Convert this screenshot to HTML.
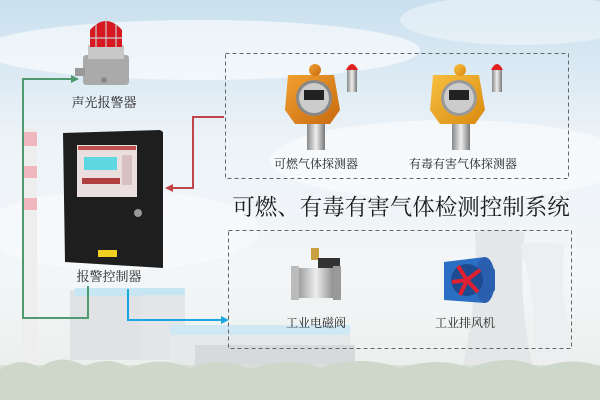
<!DOCTYPE html>
<html><head><meta charset="utf-8"><style>
html,body{margin:0;padding:0;width:600px;height:400px;overflow:hidden}
svg text{font-family:"Liberation Serif","Noto Serif CJK SC",serif;fill:#222}
</style></head><body>
<svg width="600" height="400" viewBox="0 0 600 400" xmlns="http://www.w3.org/2000/svg">
<defs>
<linearGradient id="sky" x1="0" y1="0" x2="0" y2="1">
<stop offset="0" stop-color="#c9e0ef"/><stop offset="0.35" stop-color="#edf3f8"/><stop offset="0.7" stop-color="#f3f6f8"/><stop offset="1" stop-color="#e8ede8"/></linearGradient>
<linearGradient id="org" x1="0" y1="0" x2="1" y2="1"><stop offset="0" stop-color="#f0a030"/><stop offset="1" stop-color="#c86a10"/></linearGradient>
<linearGradient id="yel" x1="0" y1="0" x2="1" y2="1"><stop offset="0" stop-color="#f8c040"/><stop offset="1" stop-color="#d88a10"/></linearGradient>
<linearGradient id="met" x1="0" y1="0" x2="1" y2="0"><stop offset="0" stop-color="#888"/><stop offset="0.5" stop-color="#eee"/><stop offset="1" stop-color="#777"/></linearGradient>
</defs>
<rect width="600" height="400" fill="url(#sky)"/>
<ellipse cx="200" cy="50" rx="220" ry="30" fill="#fff" opacity="0.6"/>
<ellipse cx="450" cy="160" rx="180" ry="40" fill="#fff" opacity="0.5"/>
<ellipse cx="120" cy="230" rx="140" ry="40" fill="#fff" opacity="0.4"/>
<ellipse cx="520" cy="20" rx="120" ry="25" fill="#fff" opacity="0.4"/>
<!-- cooling towers -->
<path d="M475 232 Q500 228 525 232 Q515 300 540 400 L455 400 Q480 300 475 232Z" fill="#e4e6e8"/>
<path d="M520 245 Q545 240 565 245 Q555 310 590 400 L525 400 Q545 320 520 245Z" fill="#eceeef"/>
<!-- chimney -->
<rect x="22" y="128" width="15" height="240" fill="#eee"/>
<rect x="22" y="132" width="15" height="14" fill="#f0b8be"/>
<rect x="22" y="166" width="15" height="12" fill="#f0b8be"/>
<rect x="22" y="198" width="15" height="12" fill="#f0b8be"/>
<!-- buildings -->
<rect x="70" y="290" width="70" height="70" fill="#dfe3e6"/>
<rect x="75" y="288" width="110" height="8" fill="#c7e6f4"/>
<rect x="140" y="295" width="45" height="65" fill="#e3e6e8"/>
<rect x="170" y="325" width="180" height="10" fill="#cfe8f4"/>
<rect x="170" y="335" width="180" height="30" fill="#e6e9ea"/>
<rect x="195" y="345" width="160" height="20" fill="#d6dadc"/>
<!-- trees -->
<rect x="0" y="365" width="600" height="35" fill="#d8e0d6"/>
<path d="M0 370 Q20 355 40 368 Q60 352 85 366 Q110 355 130 368 Q160 355 190 368 Q220 356 250 369 Q290 356 320 368 Q360 354 400 368 Q440 356 470 368 Q510 352 540 368 Q570 356 600 366 L600 400 L0 400Z" fill="#cdd8ca"/>

<!-- dashed boxes -->
<rect x="225.5" y="53.5" width="343" height="125" fill="none" stroke="#666" stroke-dasharray="4,3"/>
<rect x="228.5" y="230.5" width="343" height="118" fill="none" stroke="#666" stroke-dasharray="4,3"/>

<!-- alarm light -->
<rect x="83" y="55" width="46" height="30" rx="3" fill="#aaa"/>
<rect x="75" y="68" width="10" height="8" fill="#999"/>
<circle cx="104" cy="80" r="3" fill="#888"/>
<rect x="88" y="45" width="36" height="14" fill="#c8c8c8"/>
<path d="M90 47 L90 30 Q106 12 122 30 L122 47Z" fill="#d81820"/>
<path d="M90 38 H122 M96 47 V24 M106 47 V18 M116 47 V24" stroke="#ccc" stroke-width="1.2" fill="none"/>
<text x="104" y="107" font-size="13" text-anchor="middle">声光报警器</text>

<!-- controller -->
<path d="M63 133 L160 130 L163 132 L163 268 L65 262Z" fill="#1e1e1e"/>
<rect x="77" y="145" width="60" height="52" fill="#eadede"/>
<rect x="78" y="146" width="58" height="4" fill="#c05050"/>
<rect x="84" y="157" width="33" height="13" fill="#5ed8e0"/>
<rect x="82" y="178" width="38" height="6" fill="#b04040"/>
<rect x="122" y="155" width="10" height="30" fill="#d8c0c0"/>
<circle cx="138" cy="213" r="4" fill="#999"/>
<rect x="98" y="250" width="19" height="7" fill="#f0d020"/>
<text x="109" y="281" font-size="13" text-anchor="middle">报警控制器</text>

<!-- connectors -->
<polyline points="88,286 88,318 23,318 23,79 72,79" fill="none" stroke="#4f9a6e" stroke-width="2"/>
<polygon points="79,79 71,75 71,83" fill="#4f9a6e"/>
<polyline points="224,117 193,117 193,188 172,188" fill="none" stroke="#c0454a" stroke-width="2"/>
<polygon points="165,188 173,184 173,192" fill="#c0454a"/>
<polyline points="128,289 128,320 222,320" fill="none" stroke="#1ba6e0" stroke-width="2"/>
<polygon points="229,320 221,316 221,324" fill="#1ba6e0"/>

<!-- detector 1 -->
<rect x="307" y="122" width="18" height="28" fill="url(#met)"/>
<path d="M288 75 L334 75 L340 110 L330 124 L295 124 L285 110Z" fill="url(#org)"/>
<circle cx="315" cy="70" r="6" fill="url(#org)"/>
<circle cx="314" cy="98" r="18" fill="#888"/>
<circle cx="314" cy="98" r="15" fill="#ccc"/>
<rect x="304" y="90" width="20" height="10" fill="#222"/>
<rect x="347" y="68" width="10" height="24" fill="url(#met)"/>
<path d="M346 70 Q352 58 358 70Z" fill="#e02020"/>
<text x="316" y="168" font-size="12" text-anchor="middle">可燃气体探测器</text>

<!-- detector 2 -->
<rect x="452" y="122" width="18" height="28" fill="url(#met)"/>
<path d="M433 75 L479 75 L485 110 L475 124 L440 124 L430 110Z" fill="url(#yel)"/>
<circle cx="460" cy="70" r="6" fill="url(#yel)"/>
<circle cx="459" cy="98" r="18" fill="#999"/>
<circle cx="459" cy="98" r="15" fill="#ccc"/>
<rect x="449" y="90" width="20" height="10" fill="#222"/>
<rect x="492" y="68" width="10" height="24" fill="url(#met)"/>
<path d="M491 70 Q497 58 503 70Z" fill="#e02020"/>
<text x="463" y="168" font-size="12" text-anchor="middle">有毒有害气体探测器</text>

<!-- title -->
<text x="401" y="215" font-size="22.5" text-anchor="middle" style="fill:#1a1a1a">可燃、有毒有害气体检测控制系统</text>

<!-- valve -->
<rect x="311" y="248" width="8" height="12" fill="#c8a040"/>
<rect x="318" y="258" width="22" height="12" fill="#333"/>
<rect x="294" y="268" width="44" height="30" rx="5" fill="url(#met)"/>
<rect x="291" y="266" width="8" height="34" fill="#bbb"/>
<rect x="333" y="266" width="8" height="34" fill="#999"/>
<text x="316" y="327" font-size="12" text-anchor="middle">工业电磁阀</text>

<!-- fan -->
<path d="M444 262 L485 257 L495 270 L495 290 L485 303 L444 300Z" fill="#2b6fc4"/>
<ellipse cx="485" cy="280" rx="10" ry="23" fill="#2a5fb0"/>
<circle cx="467" cy="280" r="16" fill="#1e4a90"/>
<path d="M467 280 L458 266 M467 280 L480 270 M467 280 L478 292 M467 280 L460 295 M467 280 L452 282" stroke="#e02030" stroke-width="4"/>
<text x="465" y="327" font-size="12" text-anchor="middle">工业排风机</text>
</svg>
</body></html>
